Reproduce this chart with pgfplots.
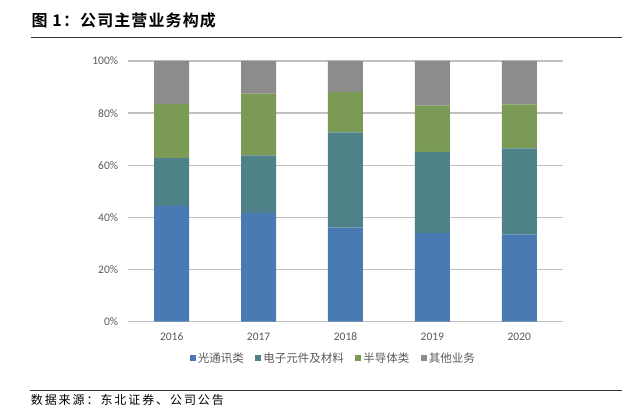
\documentclass[border=0pt]{standalone}
\usepackage{pgfplots}
\pgfplotsset{compat=1.18}
\usepackage{fontspec}
\setmainfont{Carlito}
\newfontfamily\cjk{Noto Sans CJK SC}
\newfontfamily\cjktitle{Noto Sans CJK SC Bold}[LetterSpace=7]
\newfontfamily\cjkfoot{Noto Sans CJK SC}[LetterSpace=16]

\definecolor{sBlue}{HTML}{4A7AB4}
\definecolor{sTeal}{HTML}{4F8288}
\definecolor{sGreen}{HTML}{7B9A56}
\definecolor{sGray}{HTML}{8C8C8C}
\definecolor{txtGray}{HTML}{595959}
\definecolor{gridGray}{HTML}{C0C0C0}

\begin{document}
\begin{tikzpicture}[x=1pt,y=1pt]
\path[use as bounding box] (0,0) rectangle (622,410);

% title and footer
\node[anchor=base west, inner sep=0pt] at (31.5,383) {\fontsize{16}{18}\selectfont\cjktitle 图 1：公司主营业务构成};
\draw[line width=0.9pt, color=black!80] (30.5,372.7) -- (622,372.7);
\draw[line width=0.9pt, color=black!80] (30,19.7) -- (622,19.7);
\node[anchor=base west, inner sep=0pt] at (30.7,5) {\fontsize{12}{14}\selectfont\cjkfoot 数据来源：东北证券、公司公告};

\begin{axis}[
    scale only axis,
    width=434.4pt, height=260.7pt,
    at={(128.3pt,88.3pt)}, anchor=south west,
    ybar stacked, bar width=35pt,
    xmin=-0.5, xmax=4.5,
    ymin=0, ymax=100,
    xtick={0,1,2,3,4},
    xticklabels={2016,2017,2018,2019,2020},
    ytick={0,20,40,60,80,100},
    yticklabels={0\%,20\%,40\%,60\%,80\%,100\%},
    axis line style={draw=none},
    major tick length=0pt,
    ymajorgrids,
    grid style={color=gridGray, line width=1.3pt},
    tick label style={font=\fontsize{11.5}{13}\selectfont, text=txtGray},
    yticklabel style={inner sep=0pt, xshift=-10pt},
    xticklabel style={inner sep=0pt, anchor=north, yshift=-11pt},
    legend columns=4,
    legend style={draw=none, fill=none, at={(0.5,0)}, anchor=north,
        xshift=-13pt, yshift=-31pt, inner sep=0pt,
        nodes={inner sep=0pt, text=txtGray, font=\fontsize{11.5}{13}\selectfont\cjk},
        /tikz/every odd column/.append style={column sep=2pt},
        /tikz/every even column/.append style={column sep=11.5pt}},
    legend image code/.code={\fill[#1] (0pt,-3pt) rectangle (6pt,3pt);},
]
\addplot[fill=sBlue, draw=none] coordinates {(0,44.4) (1,41.6) (2,36.1) (3,34.1) (4,33.4)};
\addplot[fill=sTeal, draw=none] coordinates {(0,18.3) (1,22.2) (2,36.5) (3,31.0) (4,33.1)};
\addplot[fill=sGreen, draw=none] coordinates {(0,20.9) (1,23.7) (2,15.6) (3,17.8) (4,16.9)};
\addplot[fill=sGray, draw=none] coordinates {(0,16.4) (1,12.5) (2,11.8) (3,17.1) (4,16.6)};
\legend{光通讯类,电子元件及材料,半导体类,其他业务}
\end{axis}
\end{tikzpicture}
\end{document}
